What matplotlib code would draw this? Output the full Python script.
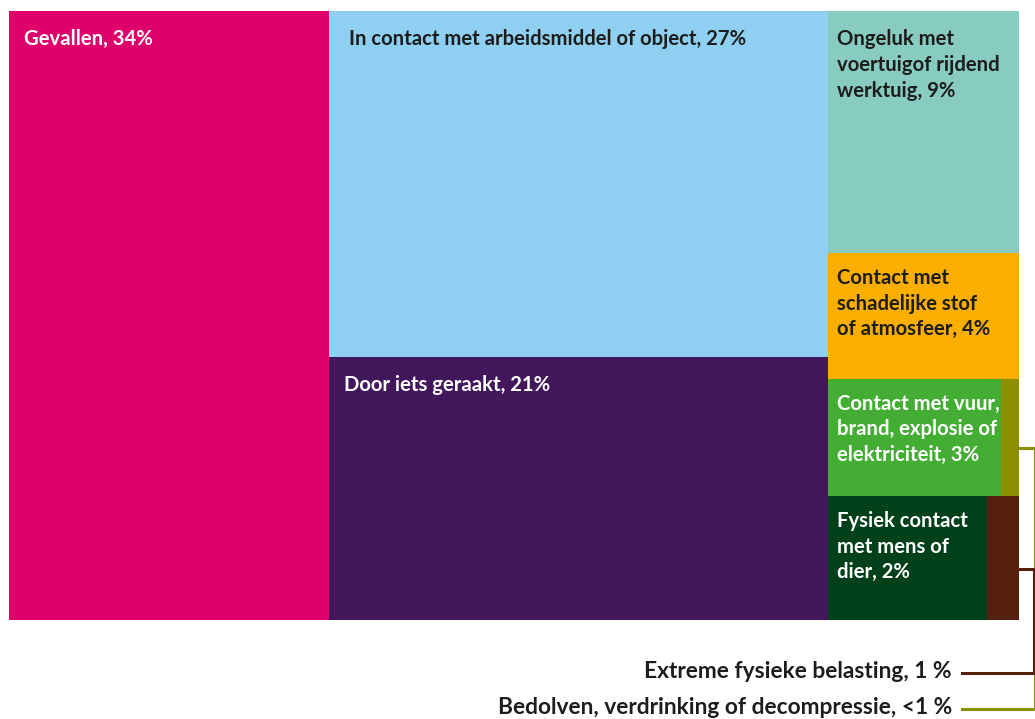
import matplotlib
matplotlib.use("Agg")
import matplotlib.pyplot as plt
from matplotlib.patches import Rectangle

# ---- data (area shares; labels as printed) ----
categories = [
    "Gevallen", "In contact met arbeidsmiddel of object", "Door iets geraakt",
    "Ongeluk met voertuigof rijdend werktuig", "Contact met schadelijke stof of atmosfeer",
    "Contact met vuur, brand, explosie of elektriciteit",
    "Bedolven, verdrinking of decompressie",
    "Fysiek contact met mens of dier", "Extreme fysieke belasting",
]
values = [31.6, 28.1, 21.3, 7.5, 3.9, 3.3, 0.34, 3.2, 0.65]
labels = [
    "Gevallen, 34%",
    "In contact met arbeidsmiddel of object, 27%",
    "Door iets geraakt, 21%",
    "Ongeluk met\nvoertuigof rijdend\nwerktuig, 9%",
    "Contact met\nschadelijke stof\nof atmosfeer, 4%",
    "Contact met vuur,\nbrand, explosie of\nelektriciteit, 3%",
    "",
    "Fysiek contact\nmet mens of\ndier, 2%",
    "",
]
outside_labels = {6: "Bedolven, verdrinking of decompressie, <1 %",
                  8: "Extreme fysieke belasting, 1 %"}
colors = ["#E0006B", "#8FD0F2", "#43175C", "#87CBC1", "#F9AE00",
          "#43AE33", "#8C8F00", "#00401A", "#55200E"]
text_colors = ["white", "#1d1d1b", "white", "#1d1d1b", "#1d1d1b",
               "white", "white", "white", "white"]

# layout structure: columns -> rows -> cells (indices into the lists above)
structure = [
    [[0]],
    [[1], [2]],
    [[3], [4], [5, 6], [7, 8]],
]

W, H = 1035, 719
X0, Y0, X1, Y1 = 9, 11, 1019, 620

fig = plt.figure(figsize=(W / 100, H / 100), dpi=100)
ax = fig.add_axes([0, 0, 1, 1])
ax.set_xlim(0, W)
ax.set_ylim(H, 0)
ax.axis("off")

FONT = ["Lato", "DejaVu Sans"]
FS = 14.6
FS_OUT = 16.4

total = sum(values)
rects = {}
x = X0
for col in structure:
    col_sum = sum(values[i] for row in col for i in row)
    cw = (X1 - X0) * col_sum / total
    y = Y0
    for row in col:
        row_sum = sum(values[i] for i in row)
        rh = (Y1 - Y0) * row_sum / col_sum
        xx = x
        for i in row:
            w = cw * values[i] / row_sum
            ax.add_patch(Rectangle((xx, y), w, rh, facecolor=colors[i],
                                   edgecolor="none"))
            rects[i] = (xx, y, w, rh)
            xx += w
        y += rh
    x += cw

pads_x = {0: 15, 1: 20, 2: 15}
pads_y = {0: 18, 1: 18, 2: 18, 3: 18}
for i, (rx, ry, rw, rh) in rects.items():
    if labels[i]:
        ax.text(rx + pads_x.get(i, 9), ry + pads_y.get(i, 15), labels[i],
                color=text_colors[i], fontsize=FS, fontweight="bold",
                family=FONT, va="top", ha="left", linespacing=1.36)

# leader lines for the tiny boxes
leader = {6: (1035, 709), 8: (1033.5, 673)}
for i, (xv, ybot) in leader.items():
    rx, ry, rw, rh = rects[i]
    yl = ry + 0.59 * rh
    ax.plot([rx + rw, xv, xv, 962], [yl, yl, ybot, ybot], color=colors[i],
            lw=2.2, solid_joinstyle="miter", clip_on=False)
    ax.text(952, ybot - 1, outside_labels[i], color="#1d1d1b", fontsize=FS_OUT,
            fontweight="bold", family=FONT, ha="right", va="center")

fig.savefig("out.png", dpi=100)
